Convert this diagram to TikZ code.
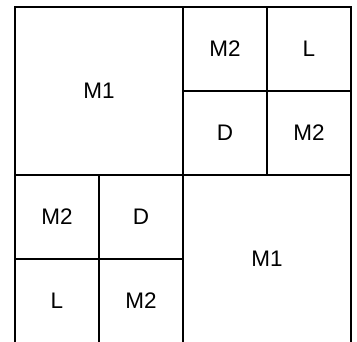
\documentclass[tikz,border=0pt]{standalone}
\usepackage{fontspec}
\setmainfont{Liberation Sans}

\begin{document}
\begin{tikzpicture}[x=1pt,y=-1pt,line width=2.7pt,
                    big node/.style={rectangle,draw,minimum size=168pt,inner sep=0pt,font=\fontsize{22.5}{26}\selectfont},
                    small node/.style={rectangle,draw,minimum size=84pt,inner sep=0pt,font=\fontsize{22.5}{26}\selectfont}]
  \useasboundingbox (0,0) rectangle (357,341);

%  upper half
  \node[big node] (1) at (99,91) {M1};
  \node[small node] (2) at (225,49) {M2};
  \node[small node] (3) at (309,49) {L};
  \node[small node] (4) at (225,133) {D};
  \node[small node] (5) at (309,133) {M2};

%  lower half
  \node[small node] (6) at (57,217) {M2};
  \node[small node] (7) at (141,217) {D};
  \node[small node] (8) at (57,301) {L};
  \node[small node] (9) at (141,301) {M2};
  \node[big node] (10) at (267,259) {M1};
\end{tikzpicture}
\end{document}
